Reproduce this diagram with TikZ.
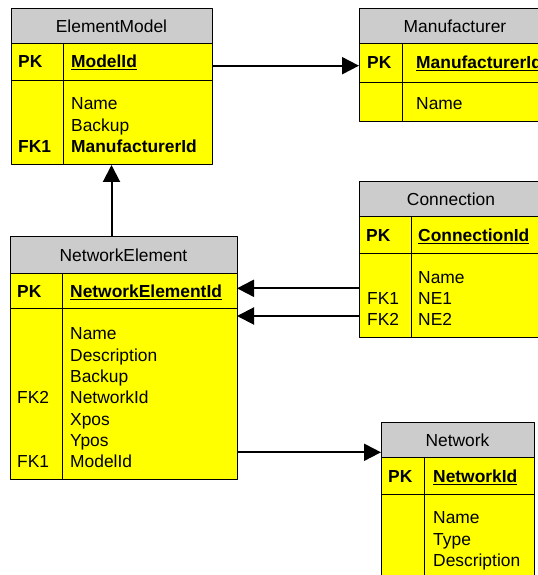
\documentclass[tikz,border=0pt]{standalone}
\usepackage{fontspec}
\setmainfont{Liberation Sans}
\usetikzlibrary{arrows.meta}
\usetikzlibrary{positioning}
\definecolor{headgray}{RGB}{204,204,204}
\definecolor{rowyellow}{RGB}{255,255,0}
\begin{document}
\begin{tikzpicture}[>=latex,line join=bevel,
  font=\fontsize{17.4bp}{21bp}\selectfont,
  tblhead/.style={draw=black,fill=headgray,line width=1bp,inner sep=0pt,outer sep=0pt,minimum height=35bp},
  tblrow/.style={draw=black,fill=rowyellow,line width=1bp,inner sep=0pt,outer sep=0pt},
  coltext/.style={anchor=base west,inner sep=0pt},
  keytext/.style={coltext,font=\fontsize{17.4bp}{21bp}\selectfont\bfseries},
  fk/.style={-{Triangle[length=17bp,width=17bp]},line width=2bp},
]
\useasboundingbox (0bp,0bp) rectangle (538bp,575bp);
\clip (0bp,0bp) rectangle (538bp,575bp);
%% ElementModel
\node (em_head) at (111.5bp,548.5bp) [tblhead,minimum width=201bp] {ElementModel};
\node (em_pk) [tblrow,minimum width=201bp,minimum height=37bp,below=0pt of em_head] {};
\node (em_body) [tblrow,minimum width=201bp,minimum height=84bp,below=0pt of em_pk] {};
\draw [line width=1bp] ([xshift=52bp]em_pk.north west) -- ([xshift=52bp]em_body.south west);
\node (em_pkkey) at (18bp,507.3bp) [keytext] {PK};
\node (em_modelid) at (71bp,507.3bp) [keytext] {\underline{ModelId}};
\node (em_name) at (71bp,465bp) [coltext] {Name};
\node (em_backup) at (71bp,443.7bp) [coltext] {Backup};
\node (em_fk1) at (18bp,422.3bp) [keytext] {FK1};
\node (em_mfid) at (71bp,422.3bp) [keytext] {ManufacturerId};
%% Manufacturer
\node (mf_head) at (455bp,548.5bp) [tblhead,minimum width=192bp] {Manufacturer};
\node (mf_pk) [tblrow,minimum width=192bp,minimum height=39bp,below=0pt of mf_head] {};
\node (mf_body) [tblrow,minimum width=192bp,minimum height=39bp,below=0pt of mf_pk] {};
\draw [line width=1bp] ([xshift=43bp]mf_pk.north west) -- ([xshift=43bp]mf_body.south west);
\node (mf_pkkey) at (367bp,506.7bp) [keytext] {PK};
\node (mf_mfid) at (416bp,506.7bp) [keytext] {\underline{ManufacturerId}};
\node (mf_name) at (416bp,465bp) [coltext] {Name};
%% Connection
\node (cn_head) at (451bp,375.5bp) [tblhead,minimum width=184bp] {Connection};
\node (cn_pk) [tblrow,minimum width=184bp,minimum height=37bp,below=0pt of cn_head] {};
\node (cn_body) [tblrow,minimum width=184bp,minimum height=84bp,below=0pt of cn_pk] {};
\draw [line width=1bp] ([xshift=52bp]cn_pk.north west) -- ([xshift=52bp]cn_body.south west);
\node (cn_pkkey) at (366bp,333.3bp) [keytext] {PK};
\node (cn_connid) at (418bp,333.3bp) [keytext] {\underline{ConnectionId}};
\node (cn_name) at (418bp,291.7bp) [coltext] {Name};
\node (cn_fk1) at (367bp,270.7bp) [coltext] {FK1};
\node (cn_ne1) at (418bp,270.7bp) [coltext] {NE1};
\node (cn_fk2) at (367bp,249bp) [coltext] {FK2};
\node (cn_ne2) at (418bp,249bp) [coltext] {NE2};
%% NetworkElement
\node (ne_head) at (123.5bp,319.5bp) [tblhead,minimum width=227bp,minimum height=37bp] {NetworkElement};
\node (ne_pk) [tblrow,minimum width=227bp,minimum height=35bp,below=0pt of ne_head] {};
\node (ne_body) [tblrow,minimum width=227bp,minimum height=171bp,below=0pt of ne_pk] {};
\draw [line width=1bp] ([xshift=52bp]ne_pk.north west) -- ([xshift=52bp]ne_body.south west);
\node (ne_pkkey) at (17bp,277.3bp) [keytext] {PK};
\node (ne_neid) at (70bp,277.3bp) [keytext] {\underline{NetworkElementId}};
\node (ne_name) at (70bp,235bp) [coltext] {Name};
\node (ne_desc) at (70bp,213.7bp) [coltext] {Description};
\node (ne_backup) at (70bp,192.4bp) [coltext] {Backup};
\node (ne_fk2) at (17bp,171.1bp) [coltext] {FK2};
\node (ne_netid) at (70bp,171.1bp) [coltext] {NetworkId};
\node (ne_xpos) at (70bp,149.8bp) [coltext] {Xpos};
\node (ne_ypos) at (70bp,128.5bp) [coltext] {Ypos};
\node (ne_fk1) at (17bp,107.2bp) [coltext] {FK1};
\node (ne_modelid) at (70bp,107.2bp) [coltext] {ModelId};
%% Network
\node (nw_head) at (457.5bp,134.5bp) [tblhead,minimum width=153bp] {Network};
\node (nw_pk) [tblrow,minimum width=153bp,minimum height=37bp,below=0pt of nw_head] {};
\node (nw_body) [tblrow,minimum width=153bp,minimum height=92bp,below=0pt of nw_pk] {};
\draw [line width=1bp] ([xshift=43bp]nw_pk.north west) -- ([xshift=43bp]nw_body.south west);
\node (nw_pkkey) at (388bp,92.3bp) [keytext] {PK};
\node (nw_netid) at (433bp,92.3bp) [keytext] {\underline{NetworkId}};
\node (nw_name) at (433bp,51.7bp) [coltext] {Name};
\node (nw_type) at (433bp,30bp) [coltext] {Type};
\node (nw_desc) at (433bp,8.3bp) [coltext] {Description};
%% relations
\coordinate (em_out) at (212bp,509.3bp);
\coordinate (cn_out1) at (359bp,286.7bp);
\coordinate (cn_out2) at (359bp,259bp);
\coordinate (ne_out) at (237bp,122.7bp);
\draw [fk] (em_out) -- (em_out -| mf_pk.west);
\draw [fk] (ne_head.north -| em_body.south) -- (em_body.south);
\draw [fk] (cn_out1) -- (cn_out1 -| ne_pk.east);
\draw [fk] (cn_out2) -- (cn_out2 -| ne_pk.east);
\draw [fk] (ne_out) -- (ne_out -| nw_head.west);
%
\end{tikzpicture}
\end{document}
